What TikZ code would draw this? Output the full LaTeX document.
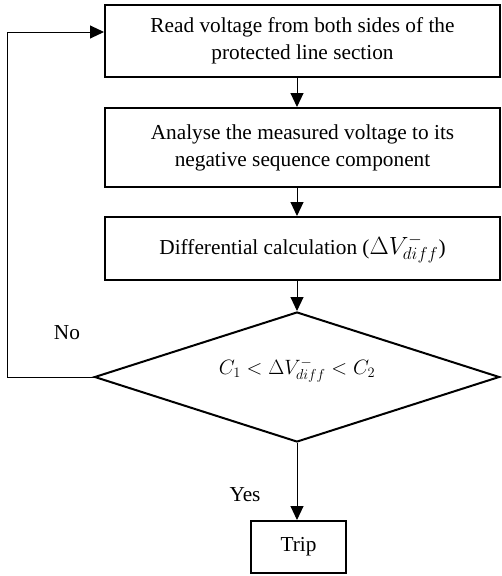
\documentclass[tikz,border=0pt]{standalone}
\usepackage{fontspec}
\setmainfont{Liberation Serif}
\usetikzlibrary{arrows.meta,shapes.geometric}
\begin{document}
\begin{tikzpicture}[x=1pt,y=-1pt,
  txt/.style={font=\fontsize{21.3}{27}\selectfont},
  procbox/.style={draw,line width=2pt,align=center,txt,inner sep=0pt},
  conn/.style={line width=1pt,-{Triangle[length=14pt,width=13pt]}},
  plain/.style={line width=1pt}]
\useasboundingbox (0,0) rectangle (501,576);
\node[procbox,minimum width=395pt,minimum height=72pt] (b1) at (302.5,41) {Read voltage from both sides of the\\protected line section};
\node[procbox,minimum width=395pt,minimum height=79pt] (b2) at (302.5,147.5) {Analyse the measured voltage to its\\negative sequence component};
\node[procbox,minimum width=395pt,minimum height=63pt] (b3) at (302.5,248.5) {Differential calculation (\scalebox{1.2}{$\Delta V_{diff}^{-}$})};
\node[draw,line width=2pt,diamond,aspect=3.115,inner sep=0pt,minimum width=405pt,minimum height=130pt,txt] (d) at (297,377) {};
\node[txt] (dt) at (297,370) {$C_1 < \Delta V_{diff}^{-} < C_2$};
\node[procbox,minimum width=95pt,minimum height=52pt] (t) at (298.5,547) {Trip};
\node[txt] (no) at (67,333) {No};
\node[txt] (yes) at (245,495) {Yes};
\coordinate (a1) at (297,77);
\coordinate (a2) at (297,187);
\coordinate (a3) at (297,280);
\coordinate (l1) at (7,377);
\coordinate (l2) at (7,32);
\draw[conn] (a1) -- (a1 |- b2.north);
\draw[conn] (a2) -- (a2 |- b3.north);
\draw[conn] (a3) -- (d.north);
\draw[conn] (d.south) -- (d.south |- t.north);
\draw[plain] (d.west) -- (l1) -- (l2);
\draw[conn] (l2) -- (l2 -| b1.west);
\end{tikzpicture}
\end{document}
